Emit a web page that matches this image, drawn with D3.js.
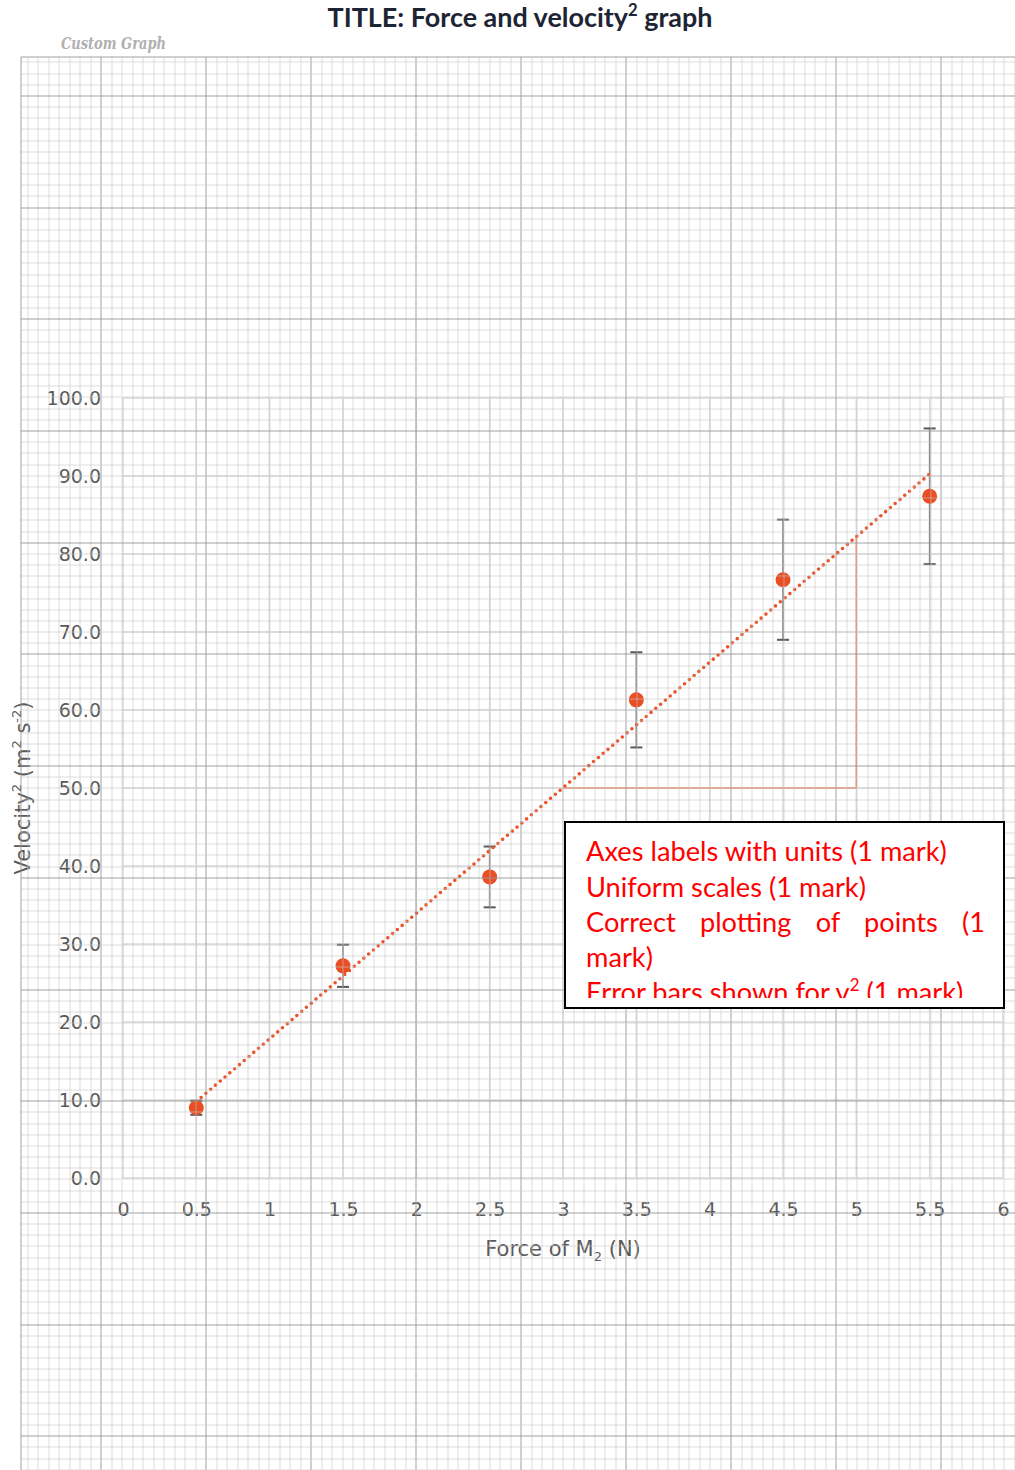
<!DOCTYPE html>
<html>
<head>
<meta charset="utf-8">
<script src="https://cdn.jsdelivr.net/npm/d3@7"></script>
<style>
  html, body { margin: 0; padding: 0; background: #ffffff; }
  svg { display: block; }
</style>
</head>
<body>
<svg id="chart" width="1015" height="1470"></svg>
<script>
// ---------------- data ----------------
const forceValues = [0.5, 1.5, 2.5, 3.5, 4.5, 5.5];            // N
const velocitySqValues = [9.0, 27.2, 38.6, 61.3, 76.7, 87.4];   // m^2 s^-2
const velocitySqErrors = [0.9, 2.7, 3.9, 6.1, 7.7, 8.7];        // +/- error bars
const xTickValues = [0, 0.5, 1, 1.5, 2, 2.5, 3, 3.5, 4, 4.5, 5, 5.5, 6];
const xTickLabels = ["0", "0.5", "1", "1.5", "2", "2.5", "3", "3.5", "4", "4.5", "5", "5.5", "6"];
const yTickValues = [0, 10, 20, 30, 40, 50, 60, 70, 80, 90, 100];
const yTickLabels = ["0.0", "10.0", "20.0", "30.0", "40.0", "50.0", "60.0", "70.0", "80.0", "90.0", "100.0"];
const slopeTriangleX = [3, 5];
const slopeTriangleBaseY = 50;
const rubricLines = [
  [{t: "Axes labels with units (1 mark)"}],
  [{t: "Uniform scales (1 mark)"}],
  [{t: "Correct plotting of points (1"}],
  [{t: "mark)"}],
  [{t: "Error bars shown for v"}, {t: "2", sup: true}, {t: " (1 mark)"}]
];

// ---------------- setup ----------------
const svg = d3.select("#chart");
const W = 1015, H = 1470;
svg.append("rect").attr("width", W).attr("height", H).attr("fill", "#ffffff");

const x = d3.scaleLinear().domain([0, 6]).range([123, 1003]);
const y = d3.scaleLinear().domain([0, 100]).range([1178, 398]);

function rich(textSel, parts, fs) {
  let shifted = 0;
  parts.forEach(p => {
    const ts = textSel.append("tspan").text(p.t);
    if (p.sup) {
      ts.attr("font-size", fs * 0.62).attr("dy", -fs * 0.42 - shifted);
      shifted = -fs * 0.42;
    } else if (p.sub) {
      ts.attr("font-size", fs * 0.62).attr("dy", fs * 0.25 - shifted);
      shifted = fs * 0.25;
    } else {
      if (shifted !== 0) { ts.attr("dy", -shifted); shifted = 0; }
    }
  });
}

// ---------------- title ----------------
const titleFs = 26;
const title = svg.append("text")
  .attr("x", 520).attr("y", 27)
  .attr("text-anchor", "middle")
  .attr("font-family", "Lato, 'Open Sans', sans-serif")
  .attr("font-weight", "bold")
  .attr("font-size", titleFs)
  .attr("fill", "#1d2433");
rich(title, [{t: "TITLE: Force and velocity"}, {t: "2", sup: true}, {t: " graph"}], titleFs);
(function fit() {
  const w = title.node().getComputedTextLength();
  const fs = titleFs * 385 / w;
  title.text(null).attr("font-size", fs);
  rich(title, [{t: "TITLE: Force and velocity"}, {t: "2", sup: true}, {t: " graph"}], fs);
})();

svg.append("text")
  .attr("x", 61).attr("y", 49)
  .attr("font-family", "'DejaVu Serif', serif")
  .attr("font-style", "italic")
  .attr("font-weight", "bold")
  .attr("font-size", 17)
  .attr("textLength", 105)
  .attr("lengthAdjust", "spacingAndGlyphs")
  .attr("fill", "#b0b0b0")
  .text("Custom Graph");

// ---------------- chart ----------------
const chart = svg.append("g");
const gridColor = "#d9d9d9";

// horizontal gridlines
chart.append("g").selectAll("line").data(yTickValues).join("line")
  .attr("x1", x(0)).attr("x2", x(6))
  .attr("y1", d => y(d)).attr("y2", d => y(d))
  .attr("stroke", gridColor).attr("stroke-width", 1.5);
// vertical gridlines
chart.append("g").selectAll("line").data(xTickValues).join("line")
  .attr("x1", d => x(d)).attr("x2", d => x(d))
  .attr("y1", y(0)).attr("y2", y(100))
  .attr("stroke", gridColor).attr("stroke-width", 1.5);

// axes
const axisFont = "'DejaVu Sans', sans-serif";
const yAxis = chart.append("g")
  .attr("transform", `translate(${101},0)`)
  .call(d3.axisLeft(y).tickValues(yTickValues).tickSize(0).tickPadding(0)
    .tickFormat((d, i) => yTickLabels[i]));
yAxis.select(".domain").remove();
yAxis.selectAll("text").attr("font-family", axisFont).attr("font-size", 19)
  .attr("fill", "#595959").attr("dy", "0.36em");

const xAxis = chart.append("g")
  .attr("transform", `translate(0,${1209})`)
  .call(d3.axisBottom(x).tickValues(xTickValues).tickSize(0).tickPadding(0)
    .tickFormat((d, i) => xTickLabels[i]));
xAxis.select(".domain").remove();
xAxis.selectAll("text").attr("font-family", axisFont).attr("font-size", 19)
  .attr("fill", "#595959").attr("dy", "0.36em");

// axis titles
const axFs = 21;
const xTitle = chart.append("text")
  .attr("x", 563).attr("y", 1256)
  .attr("text-anchor", "middle")
  .attr("font-family", axisFont).attr("font-size", axFs).attr("fill", "#595959");
rich(xTitle, [{t: "Force of M"}, {t: "2", sub: true}, {t: " (N)"}], axFs);

const yTitle = chart.append("text")
  .attr("transform", "translate(30,788) rotate(-90)")
  .attr("text-anchor", "middle")
  .attr("font-family", axisFont).attr("font-size", axFs).attr("fill", "#595959");
rich(yTitle, [{t: "Velocity"}, {t: "2", sup: true}, {t: " (m"}, {t: "2", sup: true}, {t: " s"}, {t: "-2", sup: true}, {t: ")"}], axFs);

// trendline (least squares fit of data)
const pts = forceValues.map((f, i) => ({x: f, y: velocitySqValues[i], e: velocitySqErrors[i]}));
const mx = d3.mean(forceValues), my = d3.mean(velocitySqValues);
const slope = d3.sum(pts, p => (p.x - mx) * (p.y - my)) / d3.sum(pts, p => (p.x - mx) ** 2);
const intercept = my - slope * mx;
const trend = d3.extent(forceValues).map(f => ({x: f, y: intercept + slope * f}));

// slope triangle
const triX0 = slopeTriangleX[0], triX1 = slopeTriangleX[1];
const triTop = intercept + slope * triX1;
const triColor = "#f08566";
chart.append("line")
  .attr("x1", x(triX0)).attr("x2", x(triX1))
  .attr("y1", y(slopeTriangleBaseY)).attr("y2", y(slopeTriangleBaseY))
  .attr("stroke", triColor).attr("stroke-width", 1.5);
chart.append("line")
  .attr("x1", x(triX1)).attr("x2", x(triX1))
  .attr("y1", y(slopeTriangleBaseY)).attr("y2", y(triTop))
  .attr("stroke", triColor).attr("stroke-width", 1.5);

// error bars
const eb = chart.append("g");
eb.selectAll("line.bar").data(pts).join("line").attr("class", "bar")
  .attr("x1", d => x(d.x)).attr("x2", d => x(d.x))
  .attr("y1", d => y(d.y - d.e)).attr("y2", d => y(d.y + d.e))
  .attr("stroke", "#8a8a8a").attr("stroke-width", 1.6);
["top", "bot"].forEach(k => {
  eb.selectAll("line.cap" + k).data(pts).join("line").attr("class", "cap" + k)
    .attr("x1", d => x(d.x) - 6).attr("x2", d => x(d.x) + 6)
    .attr("y1", d => y(k === "top" ? d.y + d.e : d.y - d.e))
    .attr("y2", d => y(k === "top" ? d.y + d.e : d.y - d.e))
    .attr("stroke", "#595959").attr("stroke-width", 2);
});

// dotted trendline
chart.append("path")
  .datum(trend)
  .attr("d", d3.line().x(d => x(d.x)).y(d => y(d.y)))
  .attr("fill", "none")
  .attr("stroke", "#ec5228")
  .attr("stroke-width", 3.6)
  .attr("stroke-linecap", "round")
  .attr("stroke-dasharray", "0 6.3");

// points
chart.append("g").selectAll("circle").data(pts).join("circle")
  .attr("cx", d => x(d.x)).attr("cy", d => y(d.y)).attr("r", 7.5)
  .attr("fill", "#e94e24");

// ---------------- graph paper overlay ----------------
const paper = svg.append("g");
const pL = 21, pT = 57, x0 = 101, dx = 10.5, y0 = 95.9, dy = 11.17;
const vks = d3.range(Math.ceil((pL - x0) / dx), Math.floor((W - x0) / dx) + 1);
const hks = d3.range(Math.ceil((pT + 1 - y0) / dy), Math.floor((H - y0) / dy) + 1);
const minorStroke = "rgb(200,200,200)", minorOp = 0.3;
const majorStroke = "rgb(150,150,150)", majorOp = 0.45;
paper.selectAll("line.v").data(vks).join("line").attr("class", "v")
  .attr("x1", k => Math.round(x0 + k * dx)).attr("x2", k => Math.round(x0 + k * dx))
  .attr("y1", pT).attr("y2", H)
  .attr("stroke", k => k % 10 === 0 ? majorStroke : minorStroke)
  .attr("stroke-opacity", k => k % 10 === 0 ? majorOp : minorOp)
  .attr("stroke-width", 2);
paper.selectAll("line.h").data(hks).join("line").attr("class", "h")
  .attr("x1", pL).attr("x2", W)
  .attr("y1", k => Math.round(y0 + k * dy)).attr("y2", k => Math.round(y0 + k * dy))
  .attr("stroke", k => k % 10 === 0 ? majorStroke : minorStroke)
  .attr("stroke-opacity", k => k % 10 === 0 ? majorOp : minorOp)
  .attr("stroke-width", 2);
paper.append("line").attr("x1", pL).attr("x2", pL).attr("y1", pT).attr("y2", H)
  .attr("stroke", majorStroke).attr("stroke-opacity", majorOp).attr("stroke-width", 2);
paper.append("line").attr("x1", pL).attr("x2", W).attr("y1", pT).attr("y2", pT)
  .attr("stroke", majorStroke).attr("stroke-opacity", majorOp).attr("stroke-width", 2);

// ---------------- rubric box ----------------
const box = {x: 565, y: 822, w: 439, h: 186};
const boxG = svg.append("g");
boxG.append("rect")
  .attr("x", box.x).attr("y", box.y).attr("width", box.w).attr("height", box.h)
  .attr("fill", "#ffffff").attr("stroke", "#000000").attr("stroke-width", 2);
svg.append("defs").append("clipPath").attr("id", "boxclip")
  .append("rect").attr("x", box.x).attr("y", box.y).attr("width", box.w).attr("height", 998 - box.y);
const txtG = boxG.append("g").attr("clip-path", "url(#boxclip)");
const rubFont = "Lato, 'Open Sans', sans-serif";
let rubFs = 26;
const probe = txtG.append("text").attr("font-family", rubFont).attr("font-size", rubFs).text(rubricLines[0][0].t);
rubFs = rubFs * 361 / probe.node().getComputedTextLength();
probe.remove();
const baselines = [860.7, 896.5, 931.8, 967, 1002.3];
rubricLines.forEach((parts, i) => {
  const t = txtG.append("text")
    .attr("x", 586).attr("y", baselines[i])
    .attr("font-family", rubFont).attr("font-size", rubFs).attr("fill", "#ff0000");
  rich(t, parts, rubFs);
  if (i === 2) {
    const words = parts[0].t.split(" ");
    const L = t.node().getComputedTextLength();
    const ws = (399 - L) / (words.length - 1);
    t.style("word-spacing", ws + "px");
  }
});
</script>
</body>
</html>
